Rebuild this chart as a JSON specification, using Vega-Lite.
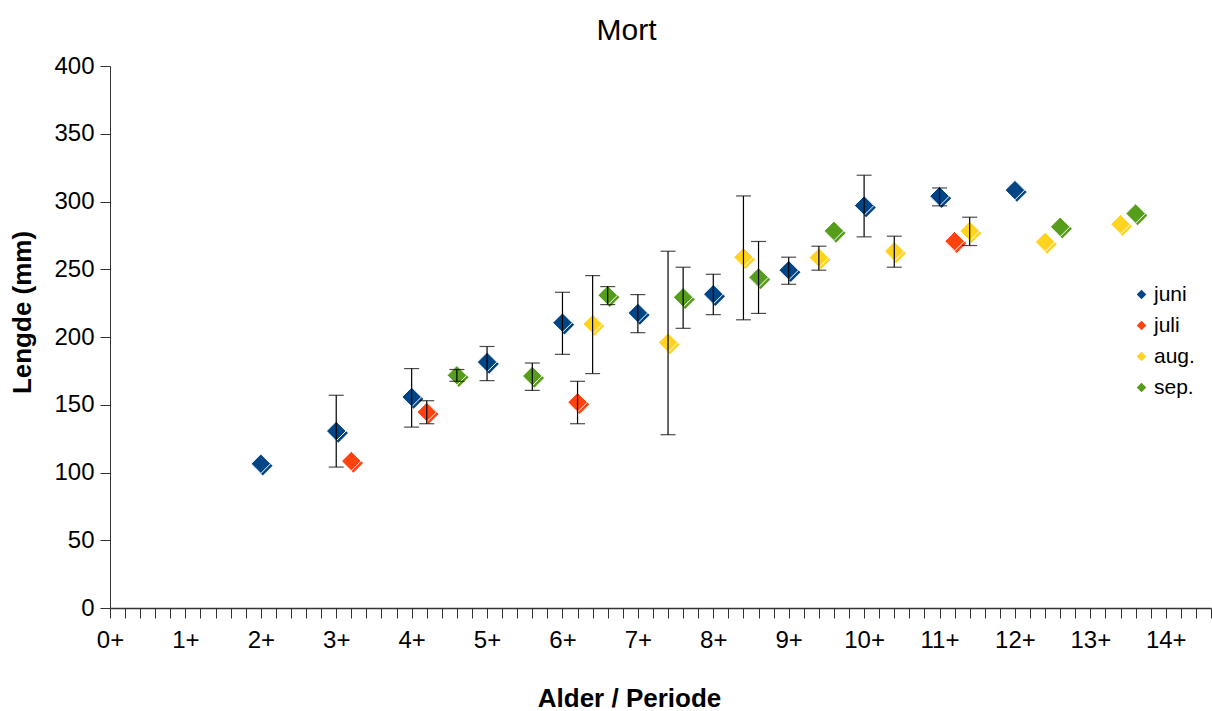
{
  "$schema": "https://vega.github.io/schema/vega-lite/v6.json",
  "autosize": "none",
  "width": 1101,
  "height": 542,
  "padding": {"left": 110, "top": 66, "right": 1, "bottom": 103},
  "background": "white",
  "config": {
    "font": "Liberation Sans",
    "view": {"stroke": null},
    "axis": {"grid": false, "labelFont": "Liberation Sans", "titleFont": "Liberation Sans", "labelColor": "black", "titleColor": "black", "domainColor": "#333", "tickColor": "#333"},
    "legend": {"title": null, "orient": "none", "legendX": 1021, "legendY": 218, "symbolType": "diamond", "symbolSize": 90, "symbolStrokeWidth": 0, "labelFontSize": 21, "labelFont": "Liberation Sans", "labelColor": "black", "labelOffset": 2, "rowPadding": 9, "padding": 0}
  },
  "title": {"text": "Mort", "fontSize": 30, "fontWeight": "normal", "font": "Liberation Sans", "anchor": "middle", "frame": "group", "dx": -34, "dy": 39, "offset": 17, "baseline": "bottom", "color": "black"},
  "data": {"values": [
    {"x": 2, "m": "juni", "y": 106.5},
    {"x": 3, "m": "juni", "y": 130.6, "lo": 104, "hi": 157},
    {"x": 4, "m": "juni", "y": 155.7, "lo": 133.5, "hi": 176.7},
    {"x": 5, "m": "juni", "y": 181.5, "lo": 167.8, "hi": 193},
    {"x": 6, "m": "juni", "y": 210.6, "lo": 187.2, "hi": 233},
    {"x": 7, "m": "juni", "y": 217.7, "lo": 203.2, "hi": 231.3},
    {"x": 8, "m": "juni", "y": 231.6, "lo": 216.5, "hi": 246.3},
    {"x": 9, "m": "juni", "y": 249.3, "lo": 238.9, "hi": 258.9},
    {"x": 10, "m": "juni", "y": 297, "lo": 273.9, "hi": 319.4},
    {"x": 11, "m": "juni", "y": 303.9, "lo": 296.8, "hi": 310},
    {"x": 12, "m": "juni", "y": 308.4},
    {"x": 3.2, "m": "juli", "y": 108.4},
    {"x": 4.2, "m": "juli", "y": 144.6, "lo": 136, "hi": 153},
    {"x": 6.2, "m": "juli", "y": 151.8, "lo": 136, "hi": 167.3},
    {"x": 11.2, "m": "juli", "y": 270.7},
    {"x": 6.4, "m": "aug.", "y": 209.6, "lo": 173, "hi": 245.3},
    {"x": 7.4, "m": "aug.", "y": 195.9, "lo": 127.9, "hi": 263.3},
    {"x": 8.4, "m": "aug.", "y": 258.9, "lo": 212.7, "hi": 304.1},
    {"x": 9.4, "m": "aug.", "y": 258.6, "lo": 249.3, "hi": 267},
    {"x": 10.4, "m": "aug.", "y": 263.3, "lo": 251.5, "hi": 274.4},
    {"x": 11.4, "m": "aug.", "y": 278.3, "lo": 267.5, "hi": 288.4},
    {"x": 12.4, "m": "aug.", "y": 270.2},
    {"x": 13.4, "m": "aug.", "y": 283.2},
    {"x": 4.6, "m": "sep.", "y": 171.7, "lo": 167.3, "hi": 176},
    {"x": 5.6, "m": "sep.", "y": 171.2, "lo": 160.6, "hi": 180.8},
    {"x": 6.6, "m": "sep.", "y": 230.8, "lo": 223.9, "hi": 237.2},
    {"x": 7.6, "m": "sep.", "y": 229.3, "lo": 206.4, "hi": 251.5},
    {"x": 8.6, "m": "sep.", "y": 244, "lo": 217.4, "hi": 270.5},
    {"x": 9.6, "m": "sep.", "y": 278.3},
    {"x": 12.6, "m": "sep.", "y": 281.3},
    {"x": 13.6, "m": "sep.", "y": 291.1}
  ]},
  "encoding": {
    "x": {"field": "x", "type": "quantitative", "scale": {"domain": [0, 14.6], "nice": false, "zero": false},
      "axis": {"title": "Alder / Periode", "titleFontSize": 26, "titleFontWeight": "bold", "titleX": 519, "titleY": 90, "titleBaseline": "middle", "titleAnchor": null, "titleAlign": "center",
        "values": [0,0.2,0.4,0.6,0.8,1,1.2,1.4,1.6,1.8,2,2.2,2.4,2.6,2.8,3,3.2,3.4,3.6,3.8,4,4.2,4.4,4.6,4.8,5,5.2,5.4,5.6,5.8,6,6.2,6.4,6.6,6.8,7,7.2,7.4,7.6,7.8,8,8.2,8.4,8.6,8.8,9,9.2,9.4,9.6,9.8,10,10.2,10.4,10.6,10.8,11,11.2,11.4,11.6,11.8,12,12.2,12.4,12.6,12.8,13,13.2,13.4,13.6,13.8,14,14.2,14.4,14.6],
        "labelExpr": "abs(datum.value - round(datum.value)) < 0.01 ? round(datum.value) + '+' : ''",
        "labelFontSize": 24, "labelPadding": 10, "tickSize": 10, "labelOverlap": false, "labelFlush": false, "domainWidth": 1.5}},
    "y": {"field": "y", "type": "quantitative", "scale": {"domain": [0, 400], "nice": false},
      "axis": {"title": "Lengde (mm)", "titleFontSize": 26, "titleFontWeight": "bold", "titleX": -88, "titleY": 246, "titleAngle": -90, "titleAlign": "center", "titleBaseline": "middle", "titleAnchor": null,
        "values": [0,50,100,150,200,250,300,350,400], "labelFontSize": 24, "labelPadding": 6, "tickSize": 10}},
    "color": {"field": "m", "type": "nominal", "scale": {"domain": ["juni", "juli", "aug.", "sep."], "range": ["#004586", "#ff420e", "#ffd320", "#579d1c"]}}
  },
  "layer": [
    {"mark": {"type": "point", "shape": "diamond", "filled": true, "size": 380, "opacity": 1, "xOffset": 2, "yOffset": 2}},
    {"mark": {"type": "point", "shape": "diamond", "filled": true, "size": 380, "opacity": 1, "stroke": "white", "strokeWidth": 1}},
    {"transform": [{"filter": "isValid(datum.lo)"}],
     "mark": {"type": "rule", "color": "black", "strokeWidth": 1.2},
     "encoding": {"y": {"field": "lo", "type": "quantitative"}, "y2": {"field": "hi"}, "color": {"value": "black"}}},
    {"transform": [{"filter": "isValid(datum.lo)"}],
     "mark": {"type": "tick", "orient": "horizontal", "color": "black", "size": 15, "thickness": 1.2},
     "encoding": {"y": {"field": "lo", "type": "quantitative"}, "color": {"value": "black"}}},
    {"transform": [{"filter": "isValid(datum.hi)"}],
     "mark": {"type": "tick", "orient": "horizontal", "color": "black", "size": 15, "thickness": 1.2},
     "encoding": {"y": {"field": "hi", "type": "quantitative"}, "color": {"value": "black"}}}
  ]
}
